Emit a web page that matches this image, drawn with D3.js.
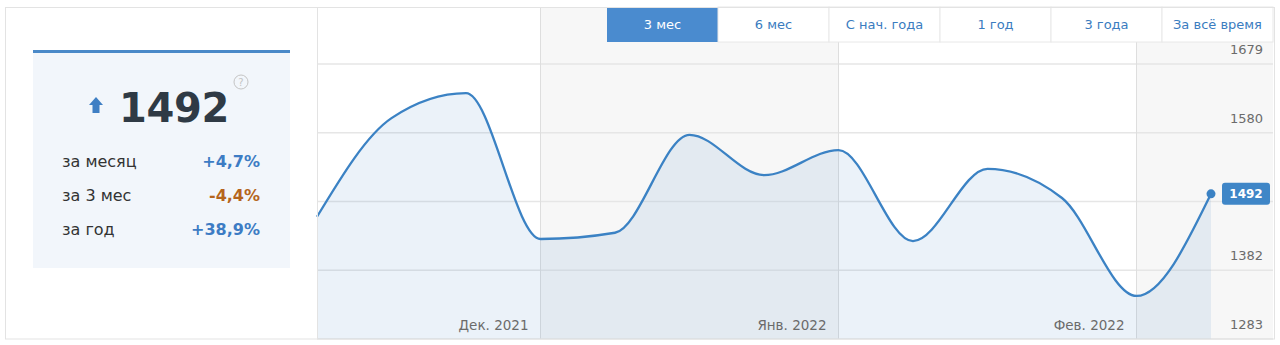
<!DOCTYPE html>
<html>
<head>
<meta charset="utf-8">
<script src="https://cdn.jsdelivr.net/npm/d3@7"></script>
<style>
  body { margin: 0; background: #fff; }
  svg { display: block; font-family: "DejaVu Sans", Verdana, sans-serif; }
</style>
</head>
<body>
<div id="container"></div>
<script>
// series: 4 samples per month, last one is today's value
var values = [1459, 1601, 1637, 1427, 1436, 1577, 1519, 1555, 1424, 1528, 1486, 1345, 1492];
var yTicks = [1283, 1382, 1481, 1580, 1679];
var monthLabels = ["Дек. 2021", "Янв. 2022", "Фев. 2022"];
var monthIndex = [3, 7, 11];
var tabs = ["3 мес", "6 мес", "С нач. года", "1 год", "3 года", "За всё время"];
var statLabels = ["за месяц", "за 3 мес", "за год"];
var statValues = ["+4,7%", "-4,4%", "+38,9%"];
var current = 1492;

var W = 1280, H = 345;
var plot = {left: 317, right: 1273, top: 7, bottom: 339};

var svg = d3.select("#container").append("svg")
    .attr("width", W).attr("height", H);

var x = d3.scaleLinear().domain([0, values.length - 1]).range([317, 1211]);
var y = d3.scaleLinear().domain([1283, 1679]).range([339, 64]);

// alternating month bands
var bandEdges = [plot.left].concat(monthIndex.map(function(i){ return x(i); })).concat([plot.right]);
for (var b = 0; b < bandEdges.length - 1; b++) {
    svg.append("rect")
        .attr("x", bandEdges[b]).attr("y", plot.top)
        .attr("width", bandEdges[b+1] - bandEdges[b])
        .attr("height", plot.bottom - plot.top)
        .attr("fill", b % 2 ? "#f7f7f7" : "#fff");
}

// horizontal grid
svg.selectAll(".grid")
    .data(yTicks)
    .enter().append("line")
        .attr("x1", plot.left).attr("x2", plot.right)
        .attr("y1", function(d){ return y(d); })
        .attr("y2", function(d){ return y(d); })
        .attr("stroke", "#e6e6e6")
        .attr("stroke-width", 1.5);

// month dividers
svg.selectAll(".vdiv")
    .data(monthIndex)
    .enter().append("line")
        .attr("x1", function(d){ return x(d); })
        .attr("x2", function(d){ return x(d); })
        .attr("y1", plot.top).attr("y2", plot.bottom)
        .attr("stroke", "#dedede")
        .attr("stroke-width", 1);

// area + line
var area = d3.area()
    .x(function(d, i){ return x(i); })
    .y0(plot.bottom)
    .y1(function(d){ return y(d); })
    .curve(d3.curveMonotoneX);
var line = d3.line()
    .x(function(d, i){ return x(i); })
    .y(function(d){ return y(d); })
    .curve(d3.curveMonotoneX);

svg.append("path").datum(values)
    .attr("d", area)
    .attr("fill", "#3f7fc4")
    .attr("fill-opacity", 0.1);
svg.append("path").datum(values)
    .attr("d", line)
    .attr("fill", "none")
    .attr("stroke", "#3b82c4")
    .attr("stroke-width", 2.3);

// month labels
svg.selectAll(".mlab")
    .data(monthIndex)
    .enter().append("text")
        .attr("x", function(d){ return x(d) - 12; })
        .attr("y", 330)
        .attr("text-anchor", "end")
        .attr("font-size", "13.5px")
        .attr("fill", "#6b6b6b")
        .text(function(d, i){ return monthLabels[i]; });

// y labels (the one under the value badge is hidden)
svg.selectAll(".ylab")
    .data(yTicks.filter(function(d){ return Math.abs(y(d) - 10 - y(current)) > 14; }))
    .enter().append("text")
        .attr("x", 1263)
        .attr("y", function(d){ return y(d) - 10; })
        .attr("text-anchor", "end")
        .attr("font-size", "13px")
        .attr("fill", "#6b6b6b")
        .text(function(d){ return d; });

// last point + badge
var last = values.length - 1;
svg.append("circle")
    .attr("cx", x(last)).attr("cy", y(values[last]))
    .attr("r", 4.5).attr("fill", "#3b82c4");
svg.append("rect")
    .attr("x", 1222).attr("y", y(current) - 11)
    .attr("width", 48).attr("height", 22)
    .attr("rx", 3)
    .attr("fill", "#3f86c7");
svg.append("text")
    .attr("x", 1246).attr("y", y(current) + 4.5)
    .attr("text-anchor", "middle")
    .attr("font-size", "12px")
    .attr("font-weight", "bold")
    .attr("fill", "#fff")
    .text(current);

// tabs
var tabX = 607, tabW = 111, tabY = 7, tabH = 35;
svg.selectAll(".tab")
    .data(tabs)
    .enter().append("rect")
        .attr("x", function(d, i){ return tabX + i * tabW; })
        .attr("y", tabY)
        .attr("width", function(d, i){ return i == tabs.length - 1 ? plot.right - (tabX + i * tabW) : tabW; })
        .attr("height", tabH)
        .attr("fill", function(d, i){ return i == 0 ? "#4a8bcf" : "#fff"; })
        .attr("stroke", function(d, i){ return i == 0 ? "none" : "#e8e8e8"; })
        .attr("stroke-width", 1);
svg.selectAll(".tabt")
    .data(tabs)
    .enter().append("text")
        .attr("x", function(d, i){
            var x0 = tabX + i * tabW;
            var w = i == tabs.length - 1 ? plot.right - x0 : tabW;
            return x0 + w / 2;
        })
        .attr("y", tabY + 22)
        .attr("text-anchor", "middle")
        .attr("font-size", "13px")
        .attr("fill", function(d, i){ return i == 0 ? "#fff" : "#3a7cc0"; })
        .text(function(d){ return d; });

// outer frame
svg.append("rect")
    .attr("x", 5.5).attr("y", 7.5)
    .attr("width", 1269).attr("height", 331.5)
    .attr("fill", "none")
    .attr("stroke", "#e3e3e3");
svg.append("line")
    .attr("x1", plot.left + 0.5).attr("x2", plot.left + 0.5)
    .attr("y1", 7).attr("y2", 339)
    .attr("stroke", "#e3e3e3");

// left card
var card = svg.append("g");
card.append("rect")
    .attr("x", 33).attr("y", 50)
    .attr("width", 257).attr("height", 218)
    .attr("fill", "#f2f6fb");
card.append("rect")
    .attr("x", 33).attr("y", 50)
    .attr("width", 257).attr("height", 3)
    .attr("fill", "#4a89c8");

// up arrow
card.append("path")
    .attr("d", "M96,97 L103,105 L99.5,105 L99.5,113 L92.5,113 L92.5,105 L89,105 Z")
    .attr("fill", "#3f7fc4");

card.append("text")
    .attr("x", 119).attr("y", 122)
    .attr("font-size", "40px")
    .attr("font-weight", "bold")
    .attr("letter-spacing", "-0.3")
    .attr("fill", "#2f3a45")
    .text(current);

// help icon
card.append("circle")
    .attr("cx", 241).attr("cy", 82).attr("r", 7)
    .attr("fill", "none").attr("stroke", "#c4c4c4").attr("stroke-width", 1);
card.append("text")
    .attr("x", 241).attr("y", 86)
    .attr("text-anchor", "middle")
    .attr("font-size", "10px")
    .attr("fill", "#c4c4c4")
    .text("?");

var rowY = [167, 201, 235];
card.selectAll(".slab")
    .data(statLabels)
    .enter().append("text")
        .attr("x", 62)
        .attr("y", function(d, i){ return rowY[i]; })
        .attr("font-size", "16px")
        .attr("fill", "#333")
        .text(function(d){ return d; });
card.selectAll(".sval")
    .data(statValues)
    .enter().append("text")
        .attr("x", 260)
        .attr("y", function(d, i){ return rowY[i]; })
        .attr("text-anchor", "end")
        .attr("font-size", "16px")
        .attr("font-weight", "bold")
        .attr("fill", function(d){ return d.charAt(0) == "-" ? "#b5651d" : "#3d7cc4"; })
        .text(function(d){ return d; });
</script>
</body>
</html>
